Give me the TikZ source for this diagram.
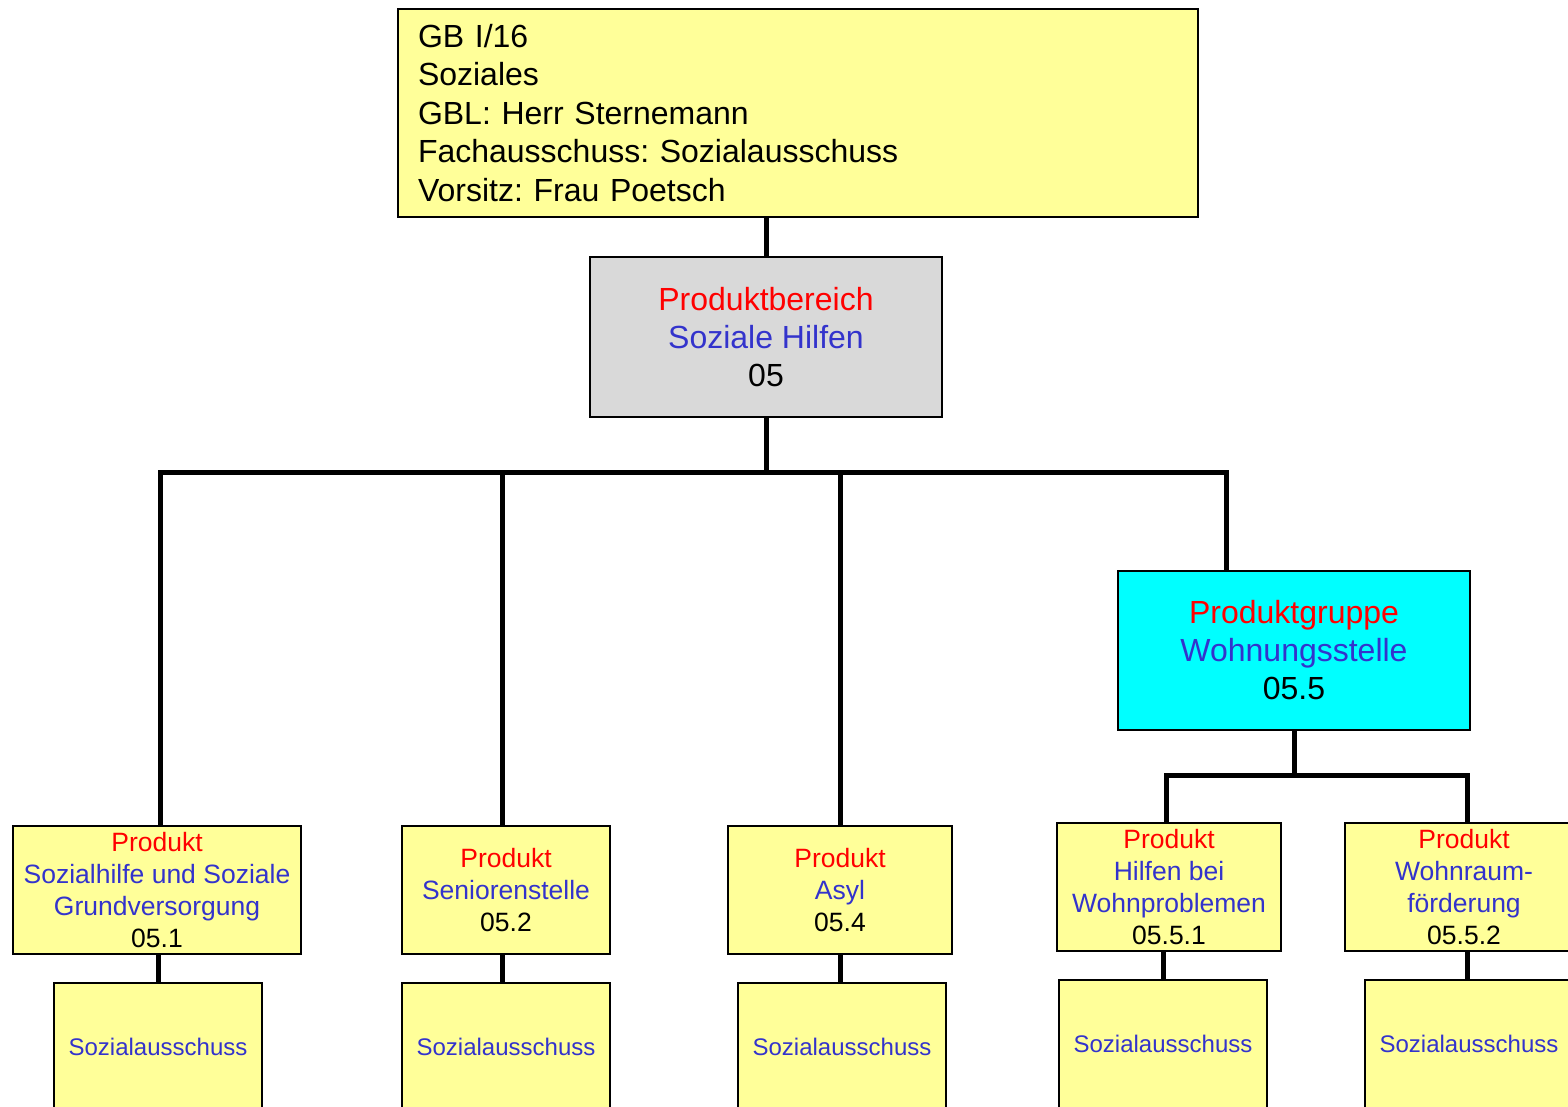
\documentclass[tikz,border=0pt]{standalone}
\usepackage{fontspec}
\setmainfont{Liberation Sans}
\frenchspacing
\definecolor{boxyellow}{HTML}{FFFF99}
\definecolor{boxgray}{HTML}{D9D9D9}
\definecolor{boxcyan}{HTML}{00FFFF}
\definecolor{txtred}{HTML}{FF0000}
\definecolor{txtblue}{HTML}{3333CC}
\tikzset{
  box/.style={draw=black, line width=1pt, rectangle, inner sep=0pt, align=center},
  bigtxt/.style={font=\fontsize{16pt}{19pt}\selectfont},
  prodtxt/.style={font=\fontsize{13.25pt}{16pt}\selectfont},
  ausstxt/.style={font=\fontsize{12pt}{14pt}\selectfont, text=txtblue},
  conn/.style={draw=black, line width=2.5pt},
}
\newcommand{\rd}[1]{\textcolor{txtred}{#1}}
\newcommand{\bl}[1]{\textcolor{txtblue}{#1}}
\begin{document}
\begin{tikzpicture}[x=0.5pt, y=-0.5pt]
\useasboundingbox (0,0) rectangle (1568,1107);
\clip (0,0) rectangle (1568,1107);
% nodes
\node[box, fill=boxyellow, minimum width=400pt, minimum height=104pt, text width=380pt, align=left,
  font=\fontsize{16pt}{19.25pt}\selectfont] (top) at (798,113)
  {GB I/16\\Soziales\\GBL: Herr Sternemann\\Fachausschuss: Sozialausschuss\\Vorsitz: Frau Poetsch};
\node[box, bigtxt, fill=boxgray, minimum width=176pt, minimum height=80pt] (pb) at (766,337)
  {\rd{Produktbereich}\\\bl{Soziale Hilfen}\\05};
\node[box, bigtxt, fill=boxcyan, minimum width=176pt, minimum height=79.5pt] (pg) at (1294,650.5)
  {\rd{Produktgruppe}\\\bl{Wohnungsstelle}\\05.5};
\node[box, prodtxt, fill=boxyellow, minimum width=144pt, minimum height=64pt] (p1) at (157,890)
  {\rd{Produkt}\\\bl{Sozialhilfe und Soziale}\\\bl{Grundversorgung}\\05.1};
\node[box, prodtxt, fill=boxyellow, minimum width=104pt, minimum height=64pt] (p2) at (506,890)
  {\rd{Produkt}\\\bl{Seniorenstelle}\\05.2};
\node[box, prodtxt, fill=boxyellow, minimum width=112pt, minimum height=64pt] (p4) at (840,890)
  {\rd{Produkt}\\\bl{Asyl}\\05.4};
\node[box, prodtxt, fill=boxyellow, minimum width=112pt, minimum height=64pt] (p51) at (1169,887)
  {\rd{Produkt}\\\bl{Hilfen bei}\\\bl{Wohnproblemen}\\05.5.1};
\node[box, prodtxt, fill=boxyellow, minimum width=119pt, minimum height=64pt] (p52) at (1464,887)
  {\rd{Produkt}\\\bl{Wohnraum-}\\\bl{förderung}\\05.5.2};
\node[box, ausstxt, fill=boxyellow, minimum width=104pt, minimum height=64pt] (s1) at (158,1047) {Sozialausschuss};
\node[box, ausstxt, fill=boxyellow, minimum width=104pt, minimum height=64pt] (s2) at (506,1047) {Sozialausschuss};
\node[box, ausstxt, fill=boxyellow, minimum width=104pt, minimum height=64pt] (s4) at (842,1047) {Sozialausschuss};
\node[box, ausstxt, fill=boxyellow, minimum width=104pt, minimum height=64pt] (s51) at (1163,1044) {Sozialausschuss};
\node[box, ausstxt, fill=boxyellow, minimum width=104pt, minimum height=64pt] (s52) at (1469,1044) {Sozialausschuss};
% connector coordinates
\coordinate (barL) at (160,472);
\coordinate (barR) at (1226,472);
\coordinate (b2) at (502,472);
\coordinate (bar2L) at (1166,775);
\coordinate (bar2R) at (1467,775);
% connectors
\draw[conn] (pb.north) -- (pb.north |- top.south);
\draw[conn] (pb.south) -- (pb.south |- barL);
\draw[conn, line cap=rect] (barL) -- (barR);
\draw[conn] (barL) -- (barL |- p1.north);
\draw[conn] (b2) -- (b2 |- p2.north);
\draw[conn] (p4.north |- barL) -- (p4.north);
\draw[conn] (barR) -- (barR |- pg.north);
\draw[conn] (pg.south) -- (pg.south |- bar2L);
\draw[conn, line cap=rect] (bar2L) -- (bar2R);
\draw[conn] (bar2L) -- (bar2L |- p51.north);
\draw[conn] (bar2R) -- (bar2R |- p52.north);
\draw[conn] (s1.north) -- (s1.north |- p1.south);
\draw[conn] (b2 |- p2.south) -- (b2 |- s2.north);
\draw[conn] (p4.south) -- (p4.south |- s4.north);
\draw[conn] (s51.north) -- (s51.north |- p51.south);
\draw[conn] (bar2R |- p52.south) -- (bar2R |- s52.north);
\end{tikzpicture}
\end{document}
